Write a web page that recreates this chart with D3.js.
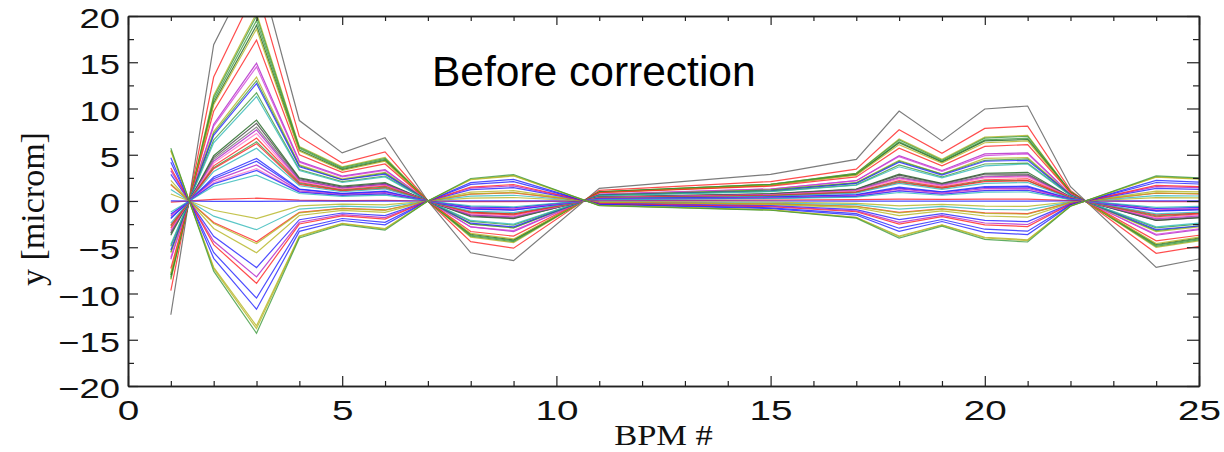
<!DOCTYPE html>
<html>
<head>
<meta charset="utf-8">
<script src="https://cdn.jsdelivr.net/npm/d3@7"></script>
<style>
  html, body { margin: 0; padding: 0; background: #fff; }
  svg { display: block; }
</style>
</head>
<body>
<svg id="chart" width="1224" height="452"></svg>
<script>
// ---- data ----
const bpmPositions = [1, 2, 3, 4, 5, 6, 7, 8, 9, 11, 15, 17, 18, 19, 20, 21, 22, 24, 25];

const orbitValues = [
  [-12.3, 16.9, 26, 8.7, 5.2, 6.85, 0, -5.6, -6.45, 1.37, 2.88, 4.5, 9.73, 6.5, 9.95, 10.27, 1.55, -7.17, -6.27],
  [-9.7, 13.4, 23, 6.95, 4.1, 5.3, 0, -4.4, -5.1, 1.15, 2.1, 3.45, 7.7, 5.15, 7.85, 8.1, 1.15, -5.65, -4.9],
  [-8.5, 11.4, 20.3, 5.9, 3.7, 4.7, 0, -3.9, -4.5, 1.0, 1.8, 3.0, 6.7, 4.5, 6.9, 7.1, 1.0, -5.0, -4.3],
  [-8.4, 11.2, 20, 5.8, 3.6, 4.6, 0, -3.8, -4.4, 1.0, 1.8, 3.0, 6.6, 4.4, 6.8, 7.0, 1.0, -4.9, -4.2],
  [-8.2, 10.9, 19.5, 5.7, 3.5, 4.5, 0, -3.7, -4.3, 1.0, 1.8, 2.9, 6.4, 4.3, 6.6, 6.8, 1.0, -4.8, -4.1],
  [-8.0, 10.6, 19.0, 5.5, 3.4, 4.4, 0, -3.6, -4.2, 0.95, 1.7, 2.85, 6.3, 4.2, 6.5, 6.65, 0.95, -4.7, -4.0],
  [-7.8, 10.4, 18.6, 5.4, 3.3, 4.3, 0, -3.5, -4.1, 0.9, 1.7, 2.8, 6.1, 4.1, 6.3, 6.5, 0.9, -4.6, -3.9],
  [-7.3, 9.7, 17.4, 5.0, 3.1, 4.0, 0, -3.3, -3.8, 0.9, 1.6, 2.6, 5.7, 3.8, 5.9, 6.1, 0.9, -4.3, -3.7],
  [-6.3, 8.3, 14.9, 4.3, 2.7, 3.4, 0, -2.8, -3.3, 0.75, 1.3, 2.2, 4.9, 3.3, 5.1, 5.2, 0.75, -3.7, -3.1],
  [-6.1, 8.1, 14.5, 4.2, 2.6, 3.3, 0, -2.8, -3.2, 0.7, 1.3, 2.2, 4.8, 3.2, 4.9, 5.1, 0.7, -3.6, -3.0],
  [-5.6, 7.5, 13.4, 3.9, 2.4, 3.1, 0, -2.5, -2.9, 0.67, 1.2, 2.0, 4.4, 2.9, 4.6, 4.7, 0.67, -3.3, -2.8],
  [-5.5, 7.3, 13.0, 3.8, 2.3, 3.0, 0, -2.5, -2.9, 0.65, 1.2, 1.95, 4.3, 2.9, 4.4, 4.55, 0.65, -3.2, -2.7],
  [-5.3, 7.1, 12.7, 3.7, 2.3, 2.9, 0, -2.4, -2.8, 0.64, 1.1, 1.9, 4.2, 2.8, 4.3, 4.4, 0.64, -3.1, -2.7],
  [-4.9, 6.6, 11.7, 3.4, 2.1, 2.7, 0, -2.2, -2.6, 0.6, 1.05, 1.75, 3.9, 2.6, 4.0, 4.1, 0.6, -2.9, -2.5],
  [-4.7, 6.3, 11.3, 3.3, 2.0, 2.6, 0, -2.1, -2.5, 0.57, 1.0, 1.7, 3.7, 2.5, 3.8, 4.0, 0.57, -2.8, -2.4],
  [-3.7, 4.9, 8.75, 2.5, 1.6, 2.0, 0, -1.7, -1.9, 0.44, 0.8, 1.3, 2.9, 1.9, 3.0, 3.1, 0.44, -2.1, -1.8],
  [-3.5, 4.7, 8.4, 2.4, 1.5, 1.9, 0, -1.6, -1.85, 0.42, 0.76, 1.26, 2.8, 1.85, 2.9, 2.9, 0.42, -2.1, -1.8],
  [-3.4, 4.5, 8.0, 2.3, 1.4, 1.8, 0, -1.5, -1.8, 0.4, 0.72, 1.2, 2.6, 1.8, 2.7, 2.8, 0.4, -2.0, -1.7],
  [-3.2, 4.3, 7.7, 2.2, 1.4, 1.8, 0, -1.5, -1.7, 0.39, 0.7, 1.15, 2.5, 1.7, 2.6, 2.7, 0.39, -1.9, -1.6],
  [-3.1, 4.1, 7.3, 2.1, 1.3, 1.7, 0, -1.4, -1.6, 0.37, 0.66, 1.1, 2.4, 1.6, 2.5, 2.6, 0.37, -1.8, -1.5],
  [-2.9, 3.8, 6.8, 2.0, 1.2, 1.6, 0, -1.3, -1.5, 0.34, 0.61, 1.0, 2.2, 1.5, 2.3, 2.4, 0.34, -1.7, -1.4],
  [-2.7, 3.6, 6.4, 1.9, 1.15, 1.5, 0, -1.2, -1.4, 0.32, 0.58, 0.96, 2.1, 1.4, 2.2, 2.2, 0.32, -1.6, -1.3],
  [-2.6, 3.5, 6.2, 1.8, 1.1, 1.4, 0, -1.2, -1.4, 0.31, 0.56, 0.93, 2.0, 1.4, 2.1, 2.2, 0.31, -1.5, -1.3],
  [-2.4, 3.2, 5.7, 1.65, 1.0, 1.3, 0, -1.1, -1.25, 0.29, 0.5, 0.86, 1.9, 1.25, 1.9, 2.0, 0.29, -1.4, -1.2],
  [-1.9, 2.6, 4.6, 1.3, 0.83, 1.06, 0, -0.87, -1.0, 0.23, 0.41, 0.69, 1.5, 1.0, 1.56, 1.6, 0.23, -1.1, -0.97],
  [-1.8, 2.4, 4.3, 1.25, 0.77, 1.0, 0, -0.82, -0.95, 0.22, 0.39, 0.65, 1.4, 0.95, 1.46, 1.5, 0.22, -1.05, -0.9],
  [-1.6, 2.2, 3.9, 1.1, 0.7, 0.9, 0, -0.74, -0.86, 0.2, 0.35, 0.59, 1.3, 0.86, 1.33, 1.37, 0.2, -0.96, -0.82],
  [-1.5, 2.0, 3.5, 1.0, 0.63, 0.8, 0, -0.67, -0.77, 0.18, 0.32, 0.53, 1.16, 0.77, 1.19, 1.23, 0.18, -0.86, -0.74],
  [-1.4, 1.85, 3.3, 0.96, 0.6, 0.76, 0, -0.63, -0.73, 0.17, 0.3, 0.5, 1.09, 0.73, 1.12, 1.16, 0.17, -0.81, -0.69],
  [-1.2, 1.6, 2.8, 0.81, 0.5, 0.64, 0, -0.53, -0.62, 0.14, 0.25, 0.42, 0.92, 0.62, 0.95, 0.98, 0.14, -0.69, -0.59],
  [-0.13, 0.17, 0.3, 0.09, 0.05, 0.07, 0, -0.06, -0.07, 0.02, 0.1, 0.15, 0.2, 0.18, 0.2, 0.2, 0.05, -0.07, -0.06],
  [0.02, -0.03, -0.05, -0.02, -0.01, -0.01, 0, 0.01, 0.01, 0.0, 0.0, -0.01, -0.02, -0.01, -0.02, -0.02, 0.0, 0.01, 0.01],
  [0.76, -1.0, -1.9, -0.53, -0.34, -0.42, 0, 0.32, 0.38, -0.07, -0.13, -0.25, -0.53, -0.36, -0.55, -0.59, -0.08, 0.36, 0.33],
  [1.24, -1.64, -3.1, -0.87, -0.56, -0.68, 0, 0.53, 0.62, -0.11, -0.22, -0.4, -0.87, -0.59, -0.9, -0.96, -0.12, 0.59, 0.54],
  [1.76, -2.33, -4.4, -1.23, -0.79, -0.97, 0, 0.75, 0.88, -0.15, -0.31, -0.57, -1.23, -0.84, -1.28, -1.36, -0.18, 0.84, 0.77],
  [1.84, -2.44, -4.6, -1.29, -0.83, -1.01, 0, 0.78, 0.92, -0.16, -0.32, -0.6, -1.29, -0.87, -1.33, -1.43, -0.18, 0.87, 0.8],
  [2.24, -2.97, -5.6, -1.57, -1.01, -1.23, 0, 0.95, 1.12, -0.2, -0.39, -0.73, -1.57, -1.06, -1.62, -1.74, -0.22, 1.06, 0.98],
  [2.88, -3.82, -7.2, -2.02, -1.3, -1.58, 0, 1.22, 1.44, -0.25, -0.5, -0.94, -2.02, -1.37, -2.09, -2.23, -0.29, 1.37, 1.26],
  [3.28, -4.35, -8.2, -2.3, -1.48, -1.8, 0, 1.39, 1.64, -0.29, -0.57, -1.07, -2.3, -1.56, -2.38, -2.54, -0.33, 1.56, 1.44],
  [3.56, -4.72, -8.9, -2.49, -1.6, -1.96, 0, 1.51, 1.78, -0.31, -0.62, -1.16, -2.49, -1.69, -2.58, -2.76, -0.36, 1.69, 1.56],
  [4.2, -5.57, -10.5, -2.94, -1.89, -2.31, 0, 1.79, 2.1, -0.37, -0.74, -1.37, -2.94, -2.0, -3.05, -3.26, -0.42, 2.0, 1.84],
  [4.68, -6.2, -11.7, -3.28, -2.11, -2.57, 0, 1.99, 2.34, -0.41, -0.82, -1.52, -3.28, -2.22, -3.39, -3.63, -0.47, 2.22, 2.05],
  [5.4, -7.16, -13.5, -3.78, -2.43, -2.97, 0, 2.3, 2.7, -0.47, -0.95, -1.76, -3.78, -2.57, -3.92, -4.19, -0.54, 2.57, 2.36],
  [5.52, -7.31, -13.8, -3.86, -2.48, -3.04, 0, 2.35, 2.76, -0.48, -0.97, -1.79, -3.86, -2.62, -4.0, -4.28, -0.55, 2.62, 2.42],
  [5.72, -7.58, -14.3, -4.0, -2.57, -3.15, 0, 2.43, 2.86, -0.5, -1.0, -1.86, -4.0, -2.72, -4.15, -4.43, -0.57, 2.72, 2.5]
];

const orbitColors = [
  "#5a5a5a", "#ff2020", "#b4b420", "#3c9a3c", "#3c9a3c", "#1e641e", "#b4b420", "#ff2020",
  "#b020c8", "#d040d8", "#b4b420", "#3c9a3c", "#2020ff", "#3c9a3c", "#30b8b8",
  "#1e641e", "#404040", "#707070", "#b020c8", "#ff70c8", "#ff2020", "#3c9a3c", "#ff2020", "#30b8b8",
  "#2020ff", "#2020ff", "#b020c8", "#ff70c8", "#2020ff", "#30b8b8", "#ff2020", "#2020ff",
  "#b4b420", "#30b8b8", "#ff2020", "#b4b420", "#b4b420", "#2020ff", "#b020c8", "#ff2020",
  "#2020ff", "#2020ff", "#b4b420", "#b4b420", "#3c9a3c"
];

const xMajorTicks = [0, 5, 10, 15, 20, 25];
const xMinorTicks = [1, 2, 3, 4, 6, 7, 8, 9, 11, 12, 13, 14, 16, 17, 18, 19, 21, 22, 23, 24];
const yMajorTicks = [-20, -15, -10, -5, 0, 5, 10, 15, 20];
const yMinorTicks = [-17.5, -12.5, -7.5, -2.5, 2.5, 7.5, 12.5, 17.5];
const panelLabel = "Before correction";
const xTitle = "BPM #";
const yTitle = "y [microm]";

// ---- layout ----
const plot = { left: 128, right: 1199, top: 16, bottom: 386 };
const svg = d3.select("#chart");

const x = d3.scaleLinear().domain([0, 25]).range([plot.left, plot.right]);
const y = d3.scaleLinear().domain([-20, 20]).range([plot.bottom, plot.top]);

svg.append("defs").append("clipPath").attr("id", "clip")
  .append("rect")
  .attr("x", plot.left).attr("y", plot.top)
  .attr("width", plot.right - plot.left).attr("height", plot.bottom - plot.top);

// ---- lines ----
const line = d3.line().x((d, i) => x(bpmPositions[i])).y(d => y(d));
svg.append("g").attr("clip-path", "url(#clip)")
  .selectAll("path")
  .data(orbitValues)
  .join("path")
  .attr("d", d => line(d))
  .attr("fill", "none")
  .attr("stroke", (d, i) => orbitColors[i % orbitColors.length])
  .attr("stroke-width", 1.2)
  .attr("stroke-opacity", 0.8)
  .attr("stroke-linejoin", "miter");

// ---- axes ----
const axisColor = "#222";
function styleAxis(g) {
  g.selectAll(".domain").attr("stroke", axisColor).attr("stroke-width", 1.6);
  g.selectAll(".tick line").attr("stroke", axisColor).attr("stroke-width", 1.2);
}
const fmt = d => (d < 0 ? "\u2212" + Math.abs(d) : String(d));

// bottom
const gxMajor = svg.append("g").attr("transform", `translate(0,${plot.bottom})`)
  .call(d3.axisBottom(x).tickValues(xMajorTicks).tickSizeInner(-10).tickSizeOuter(0).tickPadding(14).tickFormat(fmt));
svg.append("g").attr("transform", `translate(0,${plot.bottom})`)
  .call(d3.axisBottom(x).tickValues(xMinorTicks).tickSizeInner(-5).tickSizeOuter(0).tickFormat(""))
  .call(styleAxis);
// top
svg.append("g").attr("transform", `translate(0,${plot.top})`)
  .call(d3.axisTop(x).tickValues(xMajorTicks).tickSizeInner(-9).tickSizeOuter(0).tickFormat(""))
  .call(styleAxis);
svg.append("g").attr("transform", `translate(0,${plot.top})`)
  .call(d3.axisTop(x).tickValues(xMinorTicks).tickSizeInner(-5).tickSizeOuter(0).tickFormat(""))
  .call(styleAxis);
// left
const gyMajor = svg.append("g").attr("transform", `translate(${plot.left},0)`)
  .call(d3.axisLeft(y).tickValues(yMajorTicks).tickSizeInner(-10).tickSizeOuter(0).tickPadding(8).tickFormat(fmt));
svg.append("g").attr("transform", `translate(${plot.left},0)`)
  .call(d3.axisLeft(y).tickValues(yMinorTicks).tickSizeInner(-6).tickSizeOuter(0).tickFormat(""))
  .call(styleAxis);
// right
svg.append("g").attr("transform", `translate(${plot.right},0)`)
  .call(d3.axisRight(y).tickValues(yMajorTicks).tickSizeInner(-12).tickSizeOuter(0).tickFormat(""))
  .call(styleAxis);
svg.append("g").attr("transform", `translate(${plot.right},0)`)
  .call(d3.axisRight(y).tickValues(yMinorTicks).tickSizeInner(-6).tickSizeOuter(0).tickFormat(""))
  .call(styleAxis);

[gxMajor, gyMajor].forEach(g => {
  styleAxis(g);
  g.selectAll(".tick text")
    .attr("fill", "#111")
    .style("font-family", "'Liberation Sans', Arial, sans-serif")
    .style("font-size", "28px");
});
gxMajor.selectAll(".tick text").attr("transform", "scale(1.38,1)");
gyMajor.selectAll(".tick text")
  .attr("x", -8 / 1.3)
  .attr("dy", "11.5px")
  .attr("transform", "scale(1.3,1)");

// ---- titles ----
const cx = (plot.left + plot.right) / 2;
svg.append("text")
  .attr("x", cx)
  .attr("y", 445)
  .attr("text-anchor", "middle")
  .style("font-family", "'Liberation Serif', 'Times New Roman', serif")
  .style("font-size", "30px")
  .attr("fill", "#111")
  .attr("transform", `translate(${cx},0) scale(1.15,1) translate(${-cx},0)`)
  .text(xTitle);

svg.append("text")
  .attr("transform", "translate(44,209) rotate(-90)")
  .attr("text-anchor", "middle")
  .style("font-family", "'Liberation Serif', 'Times New Roman', serif")
  .style("font-size", "34px")
  .attr("fill", "#111")
  .text(yTitle);

svg.append("text")
  .attr("x", 432)
  .attr("y", 86)
  .style("font-family", "'Liberation Sans', Arial, sans-serif")
  .style("font-size", "42.5px")
  .attr("fill", "#000")
  .text(panelLabel);
</script>
</body>
</html>
